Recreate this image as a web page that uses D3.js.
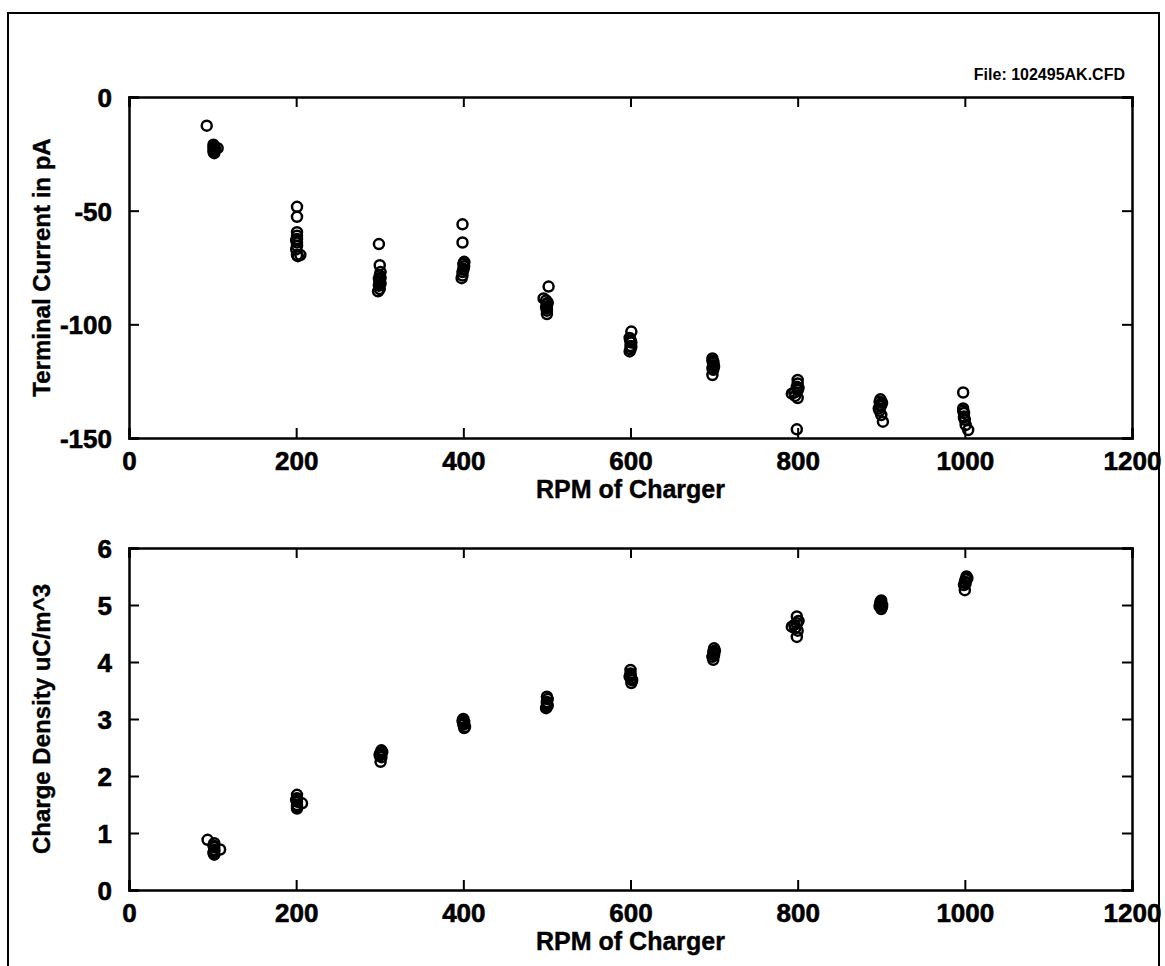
<!DOCTYPE html>
<html>
<head>
<meta charset="utf-8">
<script src="https://cdn.jsdelivr.net/npm/d3@7"></script>
<style>
  html, body { margin: 0; padding: 0; background: #fff; }
  svg { display: block; }
  text { font-family: "Liberation Sans", Arial, sans-serif; font-weight: bold; fill: #000; }
</style>
</head>
<body>
<svg id="chart" width="1165" height="966"></svg>
<script>
// ---- Data ----
const fileLabel = "File: 102495AK.CFD";
const xLabel = "RPM of Charger";
const topYLabel = "Terminal Current in pA";
const bottomYLabel = "Charge Density uC/m^3";

const xTicks = [0, 200, 400, 600, 800, 1000, 1200];
const topYTicks = [0, -50, -100, -150];
const bottomYTicks = [0, 1, 2, 3, 4, 5, 6];

// Terminal current (pA) vs RPM
const currentRpm = [
  93, 101, 102, 101, 102, 101, 102, 103, 106,
  201, 201, 201, 201, 201, 201, 201, 200, 201, 205, 202, 200,
  299, 300, 301, 300, 299, 300, 301, 299, 300, 298, 301, 299,
  399, 399, 401, 400, 401, 400, 399, 399, 398, 400, 401,
  502, 496, 499, 500, 500, 500, 500, 500, 501, 499,
  601, 599, 600, 601, 600, 600, 599, 601, 600,
  698, 698, 699, 699, 698, 699, 698, 699, 700,
  800, 800, 799, 800, 793, 797, 800, 799, 801, 796,
  899, 898, 900, 897, 898, 900, 902, 899, 901,
  998, 998, 998, 999, 999, 1000, 1001, 1004, 999
];
const currentVal = [
  -12.6, -21, -21.8, -22.5, -23.2, -24, -24.7, -23, -22.5,
  -48.3, -52.7, -59.5, -61, -62.5, -64, -65.5, -67, -69.5, -69.5, -70, -63,
  -64.7, -74, -77, -78.5, -80, -81, -82, -83, -84.5, -85.5, -79.5, -82.5,
  -56, -64, -72.5, -73.5, -74.5, -75.5, -77, -78.5, -79.7, -76, -73,
  -83.4, -88.6, -89.5, -91, -92, -93, -94, -95.5, -90.5, -92.5,
  -103.2, -106, -107, -108, -109.5, -111, -111.9, -110, -107.5,
  -115, -116, -117, -118, -119.3, -120, -122.3, -116.5, -118.5,
  -124.5, -126, -127.5, -129, -130.5, -131.5, -132.4, -146.2, -128, -130,
  -133, -134, -135.5, -137, -138, -139.9, -142.8, -136, -134.5,
  -130, -137, -138, -139, -140.5, -142, -144.3, -146.5, -141
];

// Charge density (uC/m^3) vs RPM
const densityRpm = [
  94, 102, 102, 102, 101, 102, 109, 101, 102,
  201, 201, 201, 201, 201, 207, 200, 201,
  302, 301, 300, 302, 301, 303, 300,
  400, 401, 400, 402, 401, 399, 401,
  500, 500, 501, 499, 500, 501, 500,
  600, 600, 601, 599, 601, 600, 602,
  700, 699, 700, 699, 701, 700, 698,
  799, 799, 793, 797, 800, 799, 796, 801,
  900, 899, 901, 900, 898, 899, 901,
  1002, 1001, 1000, 999, 1000, 1001, 1003
];
const densityVal = [
  0.88, 0.82, 0.75, 0.70, 0.65, 0.62, 0.71, 0.78, 0.67,
  1.67, 1.61, 1.55, 1.49, 1.43, 1.52, 1.58, 1.46,
  2.45, 2.40, 2.38, 2.33, 2.25, 2.42, 2.36,
  3.00, 2.95, 2.90, 2.86, 2.84, 2.97, 2.92,
  3.39, 3.30, 3.24, 3.19, 3.22, 3.35, 3.27,
  3.86, 3.77, 3.71, 3.74, 3.63, 3.80, 3.68,
  4.24, 4.18, 4.12, 4.04, 4.20, 4.15, 4.09,
  4.80, 4.68, 4.62, 4.59, 4.55, 4.44, 4.65, 4.72,
  5.08, 5.02, 4.97, 4.93, 4.98, 5.05, 5.00,
  5.50, 5.45, 5.41, 5.35, 5.26, 5.38, 5.47
];

// ---- Drawing ----
const svg = d3.select("#chart");

// outer frame
svg.append("rect")
  .attr("x", 8).attr("y", 13).attr("width", 1151).attr("height", 970)
  .attr("fill", "none").attr("stroke", "#000").attr("stroke-width", 2);

svg.append("text")
  .attr("x", 1125).attr("y", 80)
  .attr("text-anchor", "end")
  .attr("font-size", 16)
  .text(fileLabel);

const left = 129, right = 1132;

function panel(top, bottom, yDomain, yTicks, yLabel, xs, ys) {
  const x = d3.scaleLinear().domain([0, 1200]).range([left, right]);
  const y = d3.scaleLinear().domain(yDomain).range([bottom, top]);
  const g = svg.append("g");
  const fmt = d => String(d);

  const tickLen = 10;
  const axB = g.append("g").attr("transform", `translate(0,${bottom})`)
    .call(d3.axisBottom(x).tickValues(xTicks).tickSize(-tickLen).tickPadding(tickLen + 4).tickFormat(fmt));
  const axT = g.append("g").attr("transform", `translate(0,${top})`)
    .call(d3.axisTop(x).tickValues(xTicks).tickSize(-tickLen).tickFormat(""));
  const axL = g.append("g").attr("transform", `translate(${left},0)`)
    .call(d3.axisLeft(y).tickValues(yTicks).tickSize(-tickLen).tickPadding(tickLen + 7).tickFormat(fmt));
  const axR = g.append("g").attr("transform", `translate(${right},0)`)
    .call(d3.axisRight(y).tickValues(yTicks).tickSize(-tickLen).tickFormat(""));

  [axB, axT, axL, axR].forEach(a => {
    a.select(".domain").attr("stroke", "#000").attr("stroke-width", 2.5);
    a.selectAll(".tick line").attr("stroke", "#000").attr("stroke-width", 2);
    a.selectAll(".tick text")
      .attr("font-size", 26)
      .attr("font-family", "Liberation Sans, Arial, sans-serif")
      .attr("font-weight", "bold")
      .attr("fill", "#000")
      .attr("stroke", "#000").attr("stroke-width", 0.6);
  });
  axB.selectAll(".tick text").attr("dy", "0.71em");
  axL.selectAll(".tick text").attr("dy", "0.36em");

  g.append("text")
    .attr("x", (left + right) / 2).attr("y", bottom + 60)
    .attr("text-anchor", "middle").attr("font-size", 25)
    .attr("stroke", "#000").attr("stroke-width", 0.4)
    .text(xLabel);
  g.append("text")
    .attr("transform", `translate(50,${(top + bottom) / 2}) rotate(-90)`)
    .attr("text-anchor", "middle").attr("font-size", 24)
    .attr("stroke", "#000").attr("stroke-width", 0.4)
    .text(yLabel);

  g.append("g").selectAll("circle")
    .data(xs.map((v, i) => [v, ys[i]]))
    .join("circle")
    .attr("cx", d => x(d[0]))
    .attr("cy", d => y(d[1]))
    .attr("r", 5)
    .attr("fill", "none")
    .attr("stroke", "#000")
    .attr("stroke-width", 2.5);
}

panel(97, 438, [-150, 0], topYTicks, topYLabel, currentRpm, currentVal);
panel(548, 890, [0, 6], bottomYTicks, bottomYLabel, densityRpm, densityVal);
</script>
</body>
</html>
